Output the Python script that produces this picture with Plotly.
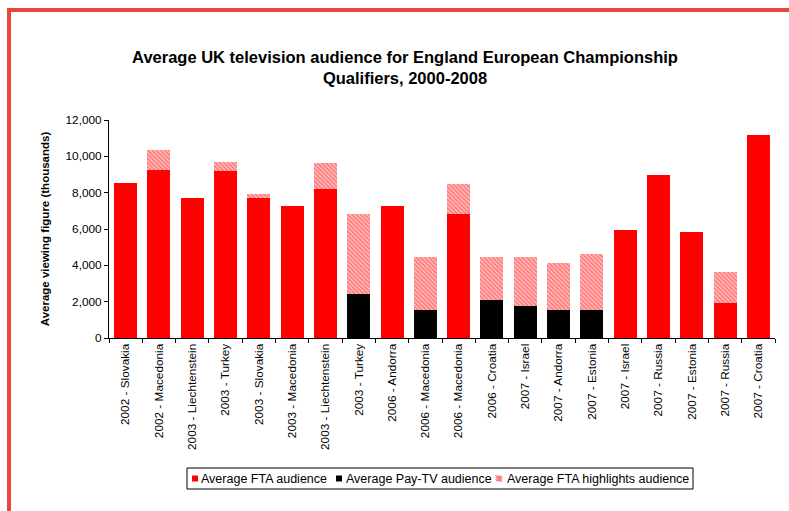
import plotly.graph_objects as go

# Matches (year - opponent)
matches = [
    "2002 - Slovakia", "2002 - Macedonia", "2003 - Liechtenstein", "2003 - Turkey",
    "2003 - Slovakia", "2003 - Macedonia", "2003 - Liechtenstein", "2003 - Turkey",
    "2006 - Andorra", "2006 - Macedonia", "2006 - Macedonia", "2006 - Croatia",
    "2007 - Israel", "2007 - Andorra", "2007 - Estonia", "2007 - Israel",
    "2007 - Russia", "2007 - Estonia", "2007 - Russia", "2007 - Croatia",
]
# Category keys must be unique, so the display labels are kept separately
keys = [f"m{i}" for i in range(len(matches))]

# Average audiences (thousands)
fta = [8550, 9250, 7730, 9210, 7710, 7290, 8220, 0, 7290, 0,
       6850, 0, 0, 0, 0, 5920, 8990, 5810, 1920, 11190]
pay_tv = [0, 0, 0, 0, 0, 0, 0, 2420, 0, 1520,
          0, 2070, 1740, 1520, 1520, 0, 0, 0, 0, 0]
highlights = [0, 1100, 0, 490, 190, 0, 1430, 4380, 0, 2920,
              1600, 2370, 2700, 2620, 3120, 0, 0, 0, 1730, 0]

series_names = ["Average FTA audience", "Average Pay-TV audience",
                "Average FTA highlights audience"]

RED = "#FF0000"
font_family = "Liberation Sans, Arial, sans-serif"

fig = go.Figure()
fig.add_trace(go.Bar(
    x=keys, y=fta, name=series_names[0],
    marker=dict(color=RED, line=dict(width=0)),
))
fig.add_trace(go.Bar(
    x=keys, y=pay_tv, name=series_names[1],
    marker=dict(color="#000000", line=dict(width=0)),
))
fig.add_trace(go.Bar(
    x=keys, y=highlights, name=series_names[2],
    marker=dict(
        color="#FFFFFF",
        line=dict(width=0),
        pattern=dict(shape="\\", fgcolor=RED, bgcolor="#FFFFFF", size=3, solidity=0.8),
    ),
))

# Plot area in pixels: x 109..775, y 120..338
L, R, T, B = 109, 789 - 775, 120, 511 - 338
PW, PH = 789 - L - R, 511 - T - B


def px_x(px):
    return (px - L) / PW


def px_y(py):
    return (511 - B - py) / PH


fig.update_layout(
    width=789, height=511,
    barmode="stack", bargap=0.31,
    margin=dict(l=L, r=R, t=T, b=B, pad=0),
    paper_bgcolor="white", plot_bgcolor="white",
    font=dict(family=font_family, size=11, color="#000000"),
    title=dict(
        text="Average UK television audience for England European Championship<br>Qualifiers, 2000-2008",
        font=dict(family=font_family, size=16.5, color="#000000", weight="bold"),
        x=px_x(405), xref="paper", xanchor="center",
        y=1 - 63 / 511, yref="container", yanchor="top",
    ),
    xaxis=dict(
        tickmode="array", tickvals=keys, ticktext=matches, tickangle=-90,
        showline=True, linecolor="#000000", linewidth=1,
        ticks="outside", tickson="boundaries", ticklen=4, tickcolor="#000000",
        tickfont=dict(size=11.8, color="#000000"),
        showgrid=False, zeroline=False,
    ),
    yaxis=dict(
        range=[0, 12000], tickvals=[0, 2000, 4000, 6000, 8000, 10000, 12000],
        tickformat=",d",
        showline=True, linecolor="#000000", linewidth=1,
        ticks="outside", ticklen=4, tickcolor="#000000",
        tickfont=dict(size=11.8, color="#000000"),
        showgrid=False, zeroline=False,
        title=dict(text="Average viewing figure (thousands)",
                   font=dict(size=11.5, weight="bold"), standoff=13),
    ),
    showlegend=False,
)

# Compact legend box below the axis labels: small swatch + label per series
shapes = []
annotations = []
shapes.append(dict(type="rect", xref="paper", yref="paper",
                   x0=px_x(187), x1=px_x(693), y0=px_y(468), y1=px_y(489),
                   line=dict(color="#000000", width=1), fillcolor="white", layer="above"))
legend_cy = 478.5
swatch_left = [192, 336, 496]
text_left = [199, 344, 505]
for i, name in enumerate(series_names):
    sx = swatch_left[i]
    if i < 2:
        shapes.append(dict(type="rect", xref="paper", yref="paper",
                           x0=px_x(sx), x1=px_x(sx + 6),
                           y0=px_y(legend_cy - 3), y1=px_y(legend_cy + 3),
                           fillcolor=RED if i == 0 else "#000000",
                           line=dict(width=0), layer="above"))
    else:
        # hatched swatch drawn as short diagonal strokes
        for k in range(-4, 7, 2):
            x0, y0 = sx + k, legend_cy - 3
            x1, y1 = sx + k + 6, legend_cy + 3
            # clip the stroke to the 6x6 swatch square
            if x0 < sx:
                y0 += sx - x0
                x0 = sx
            if x1 > sx + 6:
                y1 -= x1 - (sx + 6)
                x1 = sx + 6
            if x1 - x0 < 1:
                continue
            shapes.append(dict(type="line", xref="paper", yref="paper",
                               x0=px_x(x0), x1=px_x(x1), y0=px_y(y0), y1=px_y(y1),
                               line=dict(color=RED, width=1), layer="above"))
    annotations.append(dict(
        text=name, xref="paper", yref="paper",
        x=px_x(text_left[i]), y=px_y(legend_cy), xanchor="left", yanchor="middle",
        showarrow=False, font=dict(size=12.5, color="#000000"),
    ))

# Red frame running along the top and left edges of the page
frame_color = "#E8453C"
shapes.append(dict(type="line", xref="paper", yref="paper",
                   x0=px_x(9), x1=px_x(800), y0=px_y(10), y1=px_y(10),
                   line=dict(color=frame_color, width=4)))
shapes.append(dict(type="line", xref="paper", yref="paper",
                   x0=px_x(9), x1=px_x(9), y0=px_y(8), y1=px_y(520),
                   line=dict(color=frame_color, width=4)))

fig.update_layout(shapes=shapes, annotations=annotations)

fig.write_html("out.html")
